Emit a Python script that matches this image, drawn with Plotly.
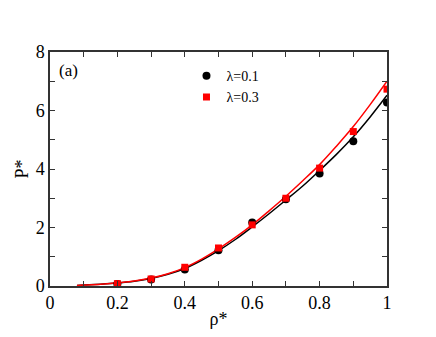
import plotly.graph_objects as go

rho_pts = [0.2, 0.3, 0.4, 0.5, 0.6, 0.7, 0.8, 0.9, 1.0]
p_l01 = [0.07, 0.22, 0.56, 1.22, 2.17, 2.97, 3.85, 4.95, 6.27]
p_l03 = [0.08, 0.24, 0.64, 1.30, 2.09, 3.00, 4.03, 5.28, 6.73]

rho_line = [0.08, 0.1, 0.15, 0.2, 0.25, 0.3, 0.35, 0.4, 0.45, 0.5, 0.55, 0.6,
            0.65, 0.7, 0.75, 0.8, 0.85, 0.9, 0.95, 1.0]
line_l01 = [0.02, 0.03, 0.06, 0.10, 0.16, 0.26, 0.40, 0.60, 0.88, 1.21, 1.59, 2.02,
            2.47, 2.94, 3.42, 3.95, 4.50, 5.10, 5.78, 6.52]
line_l03 = [0.02, 0.03, 0.06, 0.11, 0.17, 0.27, 0.42, 0.63, 0.92, 1.27, 1.66, 2.09,
            2.57, 3.07, 3.60, 4.15, 4.78, 5.45, 6.20, 7.00]

legend_labels = ["λ=0.1", "λ=0.3"]
x_ticks = [0, 0.1, 0.2, 0.3, 0.4, 0.5, 0.6, 0.7, 0.8, 0.9, 1.0]
x_ticktext = ["0", "", "0.2", "", "0.4", "", "0.6", "", "0.8", "", "1"]
y_ticks = [0, 1, 2, 3, 4, 5, 6, 7, 8]
y_ticktext = ["0", "", "2", "", "4", "", "6", "", "8"]

font = "Liberation Serif"

fig = go.Figure()
fig.add_trace(go.Scatter(x=rho_line, y=line_l01, mode="lines", line=dict(color="black", width=1.5),
                         line_shape="spline", showlegend=False))
fig.add_trace(go.Scatter(x=rho_line, y=line_l03, mode="lines", line=dict(color="red", width=1.5),
                         line_shape="spline", showlegend=False))
fig.add_trace(go.Scatter(x=rho_pts, y=p_l01, mode="markers", name=legend_labels[0],
                         marker=dict(symbol="circle", size=8, color="black")))
fig.add_trace(go.Scatter(x=rho_pts, y=p_l03, mode="markers", name=legend_labels[1],
                         marker=dict(symbol="square", size=7, color="red")))

axis_common = dict(showgrid=False, zeroline=False, showline=True, linecolor="#333333", linewidth=1.5,
                   mirror="ticks", ticks="inside", ticklen=5, tickcolor="#333333", tickwidth=1,
                   tickfont=dict(family=font, size=18, color="black"))
fig.update_xaxes(range=[0, 1], tickvals=x_ticks, ticktext=x_ticktext,
                 title=dict(text="ρ*", font=dict(family=font, size=18, color="black"), standoff=0),
                 **axis_common)
fig.update_yaxes(range=[0, 8], tickvals=y_ticks, ticktext=y_ticktext,
                 title=dict(text="P*", font=dict(family=font, size=18, color="black"), standoff=2),
                 **axis_common)

fig.add_annotation(x=0.02, y=0.97, xref="paper", yref="paper", text="(a)", showarrow=False,
                   xanchor="left", yanchor="top", font=dict(family=font, size=17, color="black"))

fig.update_layout(
    width=436, height=337,
    margin=dict(l=42, r=57, t=44, b=59),
    paper_bgcolor="white", plot_bgcolor="white",
    font=dict(family=font),
    legend=dict(x=0.405, y=0.965, xanchor="left", yanchor="top", bgcolor="rgba(0,0,0,0)",
                font=dict(family=font, size=14, color="black"), itemwidth=30,
                tracegroupgap=0),
)
fig.write_html("out.html")
